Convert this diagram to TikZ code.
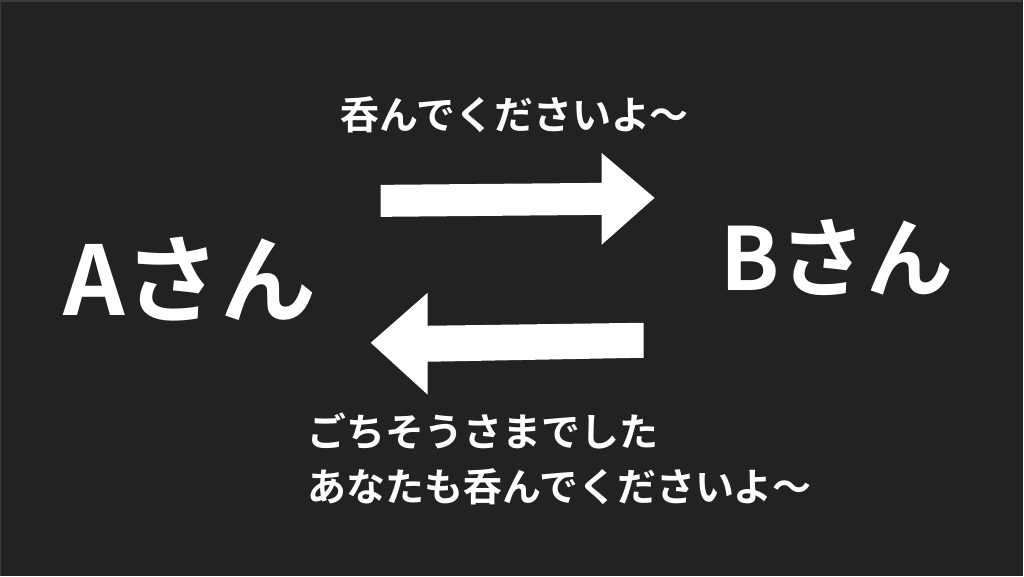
\documentclass[tikz,border=0pt]{standalone}
\usepackage{fontspec}
\newfontfamily\jp{Noto Sans CJK JP}[BoldFont={* Bold}]
\definecolor{bgc}{HTML}{222222}
\definecolor{edgec}{HTML}{3C3C3C}
\begin{document}
\begin{tikzpicture}[x=1pt,y=-1pt,
  lbl/.style={text=white,font=\jp\bfseries\fontsize{39}{43}\selectfont,anchor=west,inner sep=0pt},
  big/.style={text=white,inner sep=0pt,anchor=west}]
\fill[bgc] (0,0) rectangle (1024,576);
\draw[edgec,line width=1.5pt] (0.75,576) -- (0.75,0.75) -- (1024,0.75);
\useasboundingbox (0,0) rectangle (1024,576);
% people
\node[big,font=\jp\bfseries\fontsize{96}{100}\selectfont] (a) at (63,279) {Aさん};
\node[big,font=\jp\bfseries\fontsize{87}{91}\selectfont] (b) at (721,258) {Bさん};
% messages
\node[lbl] (m1) at (341,115) {呑んでくださいよ〜};
\node[lbl] (m2) at (308,432) {ごちそうさまでした};
\node[lbl] (m3) at (308,487) {あなたも呑んでくださいよ〜};
% arrows
\fill[white] (381,185) -- (602,183) -- (602,153) -- (655,198) -- (602,245) -- (602,215) -- (381,217) -- cycle;
\fill[white] (644,323) -- (428,326) -- (428,293) -- (371,343) -- (428,395) -- (428,362) -- (644,358) -- cycle;
\end{tikzpicture}
\end{document}
